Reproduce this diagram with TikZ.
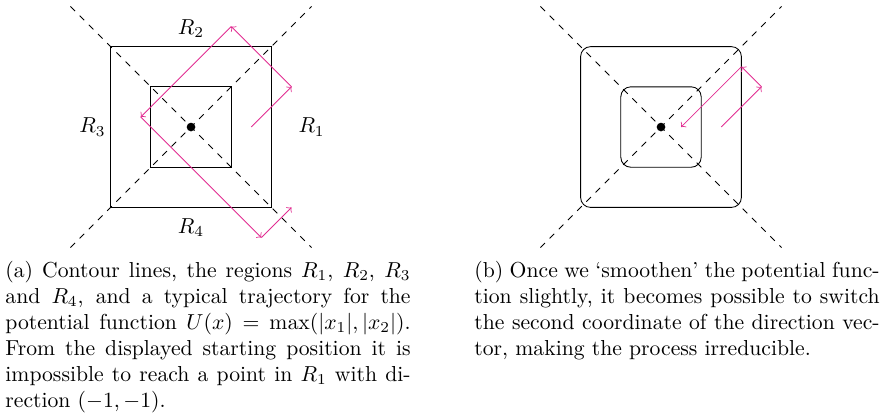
\documentclass[tikz,border=0pt]{standalone}
\usepackage{amsmath}
\definecolor{trajpink}{RGB}{225,45,145}
\begin{document}
\begin{tikzpicture}[x=0.4615pt,y=0.4615pt]
    \tikzstyle{diag}=[black,dashed]
    \tikzstyle{traj}=[trajpink,->]
    \tikzstyle{caption}=[anchor=north west,inner sep=0pt,text width=187pt,align=justify]
    \useasboundingbox (0,0) rectangle (883,415);
    % (a) contour lines of max(|x1|,|x2|)
    \begin{scope}[shift={(88.15pt,132.9pt)},x=18.55pt,y=18.55pt]
    \draw [diag] (-3,3) -- (3,-3);
    \draw [diag] (-3,-3) -- (3,3);
    \draw [black] (-2,-2) rectangle (2,2);
    \draw [black] (-1,-1) rectangle (1,1);
    \fill [black] (0,0) circle (2pt);
    \node (r1) at (3,0) {$R_1$};
    \node (r2) at (0,2.45) {$R_2$};
    \node (r3) at (-2.45,0) {$R_3$};
    \node (r4) at (0,-2.5) {$R_4$};
    \coordinate (a0) at (1.5,0);
    \coordinate (a1) at (2.5,1);
    \coordinate (a2) at (1,2.5);
    \coordinate (a3) at (-1.25,0.25);
    \coordinate (a4) at (1.75,-2.75);
    \coordinate (a5) at (2.5,-2);
    \draw [traj] (a0) -- (a1);
    \draw [traj] (a1) -- (a2);
    \draw [traj] (a2) -- (a3);
    \draw [traj] (a3) -- (a4);
    \draw [traj] (a4) -- (a5);
    \end{scope}
    % (b) smoothened contours
    \begin{scope}[shift={(305.05pt,132.9pt)},x=18.55pt,y=18.55pt]
    \draw [diag] (-3,3) -- (3,-3);
    \draw [diag] (-3,-3) -- (3,3);
    \draw [black,rounded corners=4.6pt] (-2,-2) rectangle (2,2);
    \draw [black,rounded corners=4.6pt] (-1,-1) rectangle (1,1);
    \fill [black] (0,0) circle (2pt);
    \coordinate (b0) at (1.5,0);
    \coordinate (b1) at (2.5,1);
    \coordinate (b2) at (2,1.5);
    \coordinate (b3) at (0.5,0);
    \draw [traj] (b0) -- (b1);
    \draw [traj] (b1) -- (b2);
    \draw [traj] (b2) -- (b3);
    \end{scope}
    \node [caption] (capa) at (5,154) {(a) Contour lines, the regions $R_1$, $R_2$, $R_3$ and $R_4$, and a typical trajectory for the potential function $U(x) = \max(|x_1|,|x_2|)$. From the displayed starting position it is impossible to reach a point in $R_1$ with direction $(-1,-1)$.};
    \node [caption] (capb) at (474,154) {(b) Once we `smoothen' the potential function slightly, it becomes possible to switch the second coordinate of the direction vector, making the process irreducible.};
\end{tikzpicture}
\end{document}
